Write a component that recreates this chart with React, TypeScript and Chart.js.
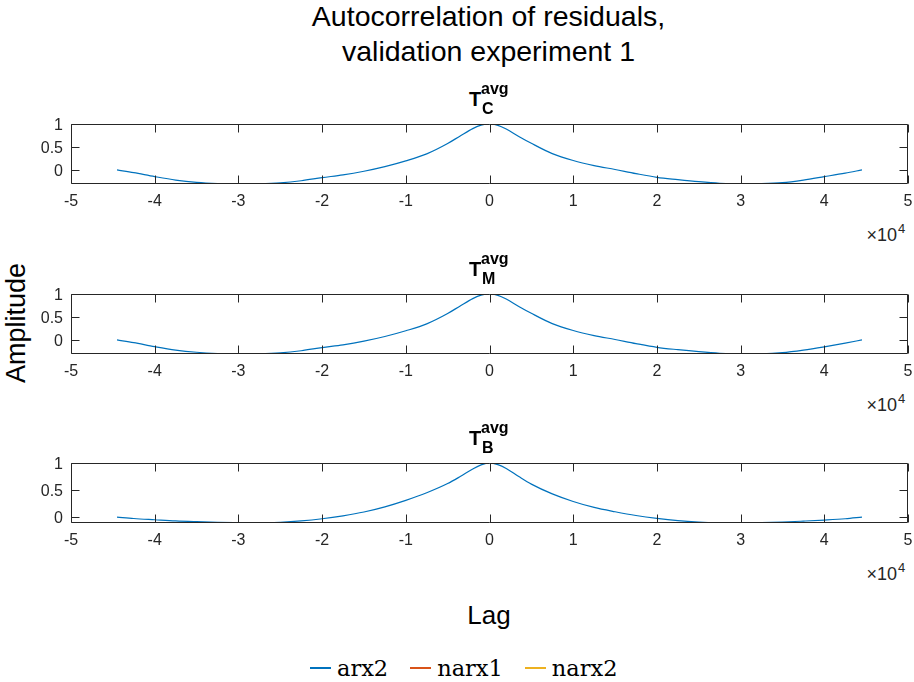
import React, { useEffect, useRef } from 'react';
import { Chart, registerables } from 'chart.js';

Chart.register(...registerables);

// ---------------- data ----------------
const LAGS = [
  -44500, -42500, -40000, -37500, -35000, -32500, -30000, -27500, -25000, -22500,
  -20000, -17500, -15000, -12500, -10000, -7500, -5000, -3500, -2000, -1000,
  0,
  1000, 2000, 3500, 5000, 7500, 10000, 12500, 15000, 17500, 20000,
  22500, 25000, 27500, 30000, 32500, 35000, 37500, 40000, 42500, 44500,
];

const ARX2_TC = [
  0, -0.06, -0.145, -0.22, -0.27, -0.296, -0.306, -0.3, -0.28, -0.235,
  -0.168, -0.108, -0.028, 0.072, 0.197, 0.35, 0.575, 0.74, 0.9, 0.975,
  1,
  0.97, 0.89, 0.73, 0.58, 0.355, 0.205, 0.095, 0.01, -0.08, -0.16,
  -0.21, -0.255, -0.29, -0.306, -0.3, -0.277, -0.22, -0.146, -0.07, 0,
];

const ARX2_TM = [
  0, -0.06, -0.146, -0.22, -0.268, -0.295, -0.306, -0.302, -0.282, -0.235,
  -0.166, -0.106, -0.026, 0.075, 0.2, 0.35, 0.575, 0.74, 0.9, 0.975,
  1,
  0.97, 0.89, 0.73, 0.58, 0.355, 0.205, 0.095, 0.01, -0.08, -0.16,
  -0.212, -0.256, -0.29, -0.305, -0.302, -0.278, -0.222, -0.15, -0.07, 0,
];

const ARX2_TB = [
  0, -0.025, -0.048, -0.07, -0.084, -0.095, -0.102, -0.108, -0.096, -0.07,
  -0.03, 0.025, 0.095, 0.19, 0.31, 0.45, 0.62, 0.75, 0.89, 0.965,
  1,
  0.97, 0.9, 0.75, 0.61, 0.43, 0.29, 0.18, 0.1, 0.03, -0.024,
  -0.065, -0.09, -0.103, -0.108, -0.102, -0.09, -0.073, -0.054, -0.03, 0,
];

// narx1 / narx2 are in the legend but draw nothing visible
const NARX1: number[] = [];
const NARX2: number[] = [];

const SERIES_NAMES = ['arx2', 'narx1', 'narx2'];
const SERIES_COLORS = ['#0072BD', '#D95319', '#EDB120'];

const X_TICKS = [-50000, -40000, -30000, -20000, -10000, 0, 10000, 20000, 30000, 40000, 50000];
const Y_TICKS = [0, 0.5, 1];

const PANEL_SUBS = ['C', 'M', 'B'];
const PANEL_DATA = [ARX2_TC, ARX2_TM, ARX2_TB];

const TITLE_LINES = ['Autocorrelation of residuals,', 'validation experiment 1'];
const Y_LABEL = 'Amplitude';
const X_LABEL = 'Lag';

// ---------------- layout ----------------
const W = 914;
const H = 682;
const BOX_LEFT = 71;
const BOX_RIGHT = 908;
const BOX_H = 60;
const BOX_TOPS = [124, 294, 463];
const PAD_TOP = 10;
const XAXIS_H = 35;
const AXIS_COLOR = '#262626';
const SANS = '"Liberation Sans", Arial, Helvetica, sans-serif';
const SERIF = '"DejaVu Serif", serif';
const TICK_LEN = 8;
const TICK_FONT = `16px ${SANS}`;

const axesBox = {
  id: 'axesBox',
  afterDraw(chart: any) {
    const { ctx, chartArea: a } = chart;
    const xs = chart.scales.x;
    const ys = chart.scales.y;
    const L = Math.round(a.left) + 0.5;
    const R = Math.round(a.right) - 0.5;
    const T = Math.round(a.top) + 0.5;
    const B = Math.round(a.bottom) - 0.5;
    ctx.save();
    ctx.strokeStyle = AXIS_COLOR;
    ctx.lineWidth = 1;
    ctx.beginPath();
    ctx.rect(L, T, R - L, B - T);
    for (const v of X_TICKS) {
      const px = Math.round(xs.getPixelForValue(v)) + 0.5;
      ctx.moveTo(px, B);
      ctx.lineTo(px, B - TICK_LEN);
      ctx.moveTo(px, T);
      ctx.lineTo(px, T + TICK_LEN);
    }
    for (const v of Y_TICKS) {
      const py = Math.round(ys.getPixelForValue(v)) + 0.5;
      ctx.moveTo(L, py);
      ctx.lineTo(L + TICK_LEN, py);
      ctx.moveTo(R, py);
      ctx.lineTo(R - TICK_LEN, py);
    }
    ctx.stroke();

    // tick labels
    ctx.fillStyle = AXIS_COLOR;
    ctx.font = TICK_FONT;
    ctx.textBaseline = 'alphabetic';
    ctx.textAlign = 'center';
    for (const v of X_TICKS) {
      const px = xs.getPixelForValue(v);
      ctx.fillText(String(v / 10000), px, a.bottom + 22);
    }
    ctx.textAlign = 'right';
    for (const v of Y_TICKS) {
      const py = ys.getPixelForValue(v);
      ctx.fillText(String(v), a.left - 8, py + 5.8);
    }
    ctx.restore();
  },
};

function Panel({ idx }: { idx: number }) {
  const ref = useRef<HTMLCanvasElement | null>(null);
  const boxTop = BOX_TOPS[idx];
  const vals = PANEL_DATA[idx];
  useEffect(() => {
    if (!ref.current) return;
    const yMin = Math.min(...vals);
    const seriesData = [vals, NARX1, NARX2];
    const chart = new Chart(ref.current, {
      type: 'line',
      data: {
        datasets: SERIES_NAMES.map((name, i) => ({
          label: name,
          data: seriesData[i].map((y, j) => ({ x: LAGS[j], y })),
          borderColor: SERIES_COLORS[i],
          backgroundColor: SERIES_COLORS[i],
          borderWidth: 1.2,
          pointRadius: 0,
          cubicInterpolationMode: 'monotone' as const,
          fill: false,
        })),
      },
      options: {
        animation: false,
        responsive: false,
        events: [],
        layout: { padding: { left: 0, right: W - BOX_RIGHT, top: PAD_TOP, bottom: 0 } },
        plugins: { legend: { display: false }, tooltip: { enabled: false }, title: { display: false } },
        scales: {
          x: {
            type: 'linear',
            min: -50000,
            max: 50000,
            grid: { display: false, drawTicks: false },
            border: { display: false },
            afterBuildTicks: (s: any) => {
              s.ticks = X_TICKS.map((v) => ({ value: v }));
            },
            afterFit: (s: any) => {
              s.height = XAXIS_H;
            },
            ticks: { display: false },
          },
          y: {
            type: 'linear',
            min: yMin,
            max: 1,
            grid: { display: false, drawTicks: false },
            border: { display: false },
            afterBuildTicks: (s: any) => {
              s.ticks = Y_TICKS.map((v) => ({ value: v }));
            },
            afterFit: (s: any) => {
              s.width = BOX_LEFT;
            },
            ticks: { display: false },
          },
        },
      },
      plugins: [axesBox],
    });
    return () => chart.destroy();
  }, []);

  const canvasH = PAD_TOP + BOX_H + XAXIS_H;
  const baseT = boxTop - 18;
  const baseSup = boxTop - 29;
  const baseSub = boxTop - 9;
  const boxBottom = boxTop + BOX_H;
  // position text by baseline (line-height 1, Liberation Sans)
  const bl = (baseline: number, size: number) => baseline - 0.8465 * size;
  return (
    <>
      <canvas
        ref={ref}
        width={W}
        height={canvasH}
        style={{ position: 'absolute', left: 0, top: boxTop - PAD_TOP, width: W, height: canvasH }}
      />
      <div style={{ position: 'absolute', left: 469, top: bl(baseT, 20), font: `bold 20px/1 ${SANS}`, color: '#000' }}>T</div>
      <div style={{ position: 'absolute', left: 481, top: bl(baseSup, 16), font: `bold 16px/1 ${SANS}`, color: '#000' }}>avg</div>
      <div style={{ position: 'absolute', left: 482, top: bl(baseSub, 16), font: `bold 16px/1 ${SANS}`, color: '#000' }}>{PANEL_SUBS[idx]}</div>
      <div style={{ position: 'absolute', right: W - 897, top: bl(boxBottom + 57, 18), font: `18px/1 ${SANS}`, color: AXIS_COLOR, whiteSpace: 'nowrap' }}>×10</div>
      <div style={{ position: 'absolute', left: 898, top: bl(boxBottom + 49, 13), font: `13px/1 ${SANS}`, color: AXIS_COLOR }}>4</div>
    </>
  );
}

export default function App() {
  return (
    <div style={{ position: 'absolute', left: 0, top: 0, width: W, height: H, background: '#fff', overflow: 'hidden' }}>
      <div style={{ position: 'absolute', left: 0, width: 977, top: -1, textAlign: 'center', font: `28.5px/35px ${SANS}`, color: '#000' }}>
        {TITLE_LINES.map((t) => (
          <div key={t}>{t}</div>
        ))}
      </div>
      <div
        style={{
          position: 'absolute',
          left: 16,
          top: 323,
          transform: 'translate(-50%, -50%) rotate(-90deg)',
          font: `27px/1 ${SANS}`,
          color: '#000',
          whiteSpace: 'nowrap',
        }}
      >
        {Y_LABEL}
      </div>
      <div
        style={{
          position: 'absolute',
          left: 489,
          top: 615,
          transform: 'translate(-50%, -50%)',
          font: `26px/1 ${SANS}`,
          color: '#000',
        }}
      >
        {X_LABEL}
      </div>
      {PANEL_SUBS.map((_, i) => (
        <Panel key={i} idx={i} />
      ))}
      <div style={{ position: 'absolute', left: 310, top: 652, display: 'flex', alignItems: 'center', height: 32 }}>
        {SERIES_NAMES.map((name, i) => (
          <div key={name} style={{ display: 'flex', alignItems: 'center', marginRight: 22 }}>
            <span style={{ display: 'inline-block', width: 21, height: 2, background: SERIES_COLORS[i], marginRight: 6 }} />
            <span style={{ font: `22.5px/1 ${SERIF}`, color: '#000' }}>{name}</span>
          </div>
        ))}
      </div>
    </div>
  );
}
